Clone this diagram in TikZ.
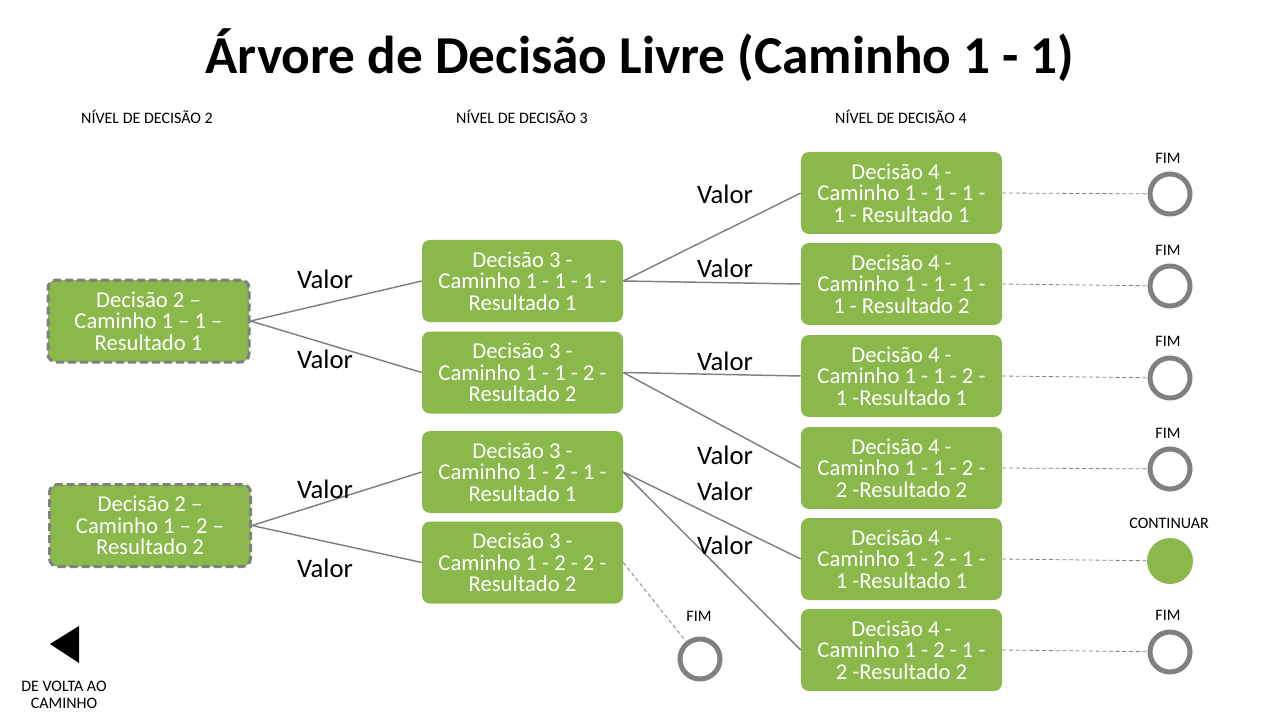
\documentclass[tikz,border=0pt]{standalone}
\usepackage{fontspec}
\setmainfont{Carlito}
\definecolor{leafgreen}{RGB}{138,184,74}
\definecolor{wiregray}{RGB}{128,128,128}

\begin{document}
\begin{tikzpicture}[x=0.75pt,y=-0.75pt,
  decbox/.style={fill=leafgreen, rounded corners=6pt, minimum width=150.75pt, minimum height=61.5pt,
    inner sep=0pt, text=white, align=center, font=\fontsize{17}{16}\selectfont},
  rootbox/.style={decbox, draw=wiregray, line width=2.25pt, dash pattern=on 6pt off 3pt},
  link/.style={draw=wiregray, line width=1.1pt},
  leadline/.style={draw=wiregray, line width=0.6pt, dash pattern=on 3pt off 2pt},
  endring/.style={circle, draw=wiregray, line width=3.75pt, minimum size=30pt, inner sep=0pt},
  endfill/.style={circle, fill=leafgreen, minimum size=34.5pt, inner sep=0pt},
  vallabel/.style={font=\fontsize{20}{22}\selectfont},
  smalllabel/.style={font=\fontsize{12}{13}\selectfont, align=center}]
\useasboundingbox (0,0) rectangle (1280,720);

\node[font=\fontsize{40}{48}\selectfont\bfseries] (title) at (640,55) {Árvore de Decisão Livre (Caminho 1 - 1)};
\node[smalllabel] (head2) at (147,117) {NÍVEL DE DECISÃO 2};
\node[smalllabel] (head3) at (522,117) {NÍVEL DE DECISÃO 3};
\node[smalllabel] (head4) at (901,117) {NÍVEL DE DECISÃO 4};

\node[rootbox] (rootA) at (148.5,321) {Decisão 2 –\\Caminho 1 – 1 –\\Resultado 1};
\node[rootbox] (rootB) at (150,525.5) {Decisão 2 –\\Caminho 1 – 2 –\\Resultado 2};

\node[decbox] (midA) at (522.5,281) {Decisão 3 -\\Caminho 1 - 1 - 1 -\\Resultado 1};
\node[decbox] (midB) at (522.5,372.5) {Decisão 3 -\\Caminho 1 - 1 - 2 -\\Resultado 2};
\node[decbox] (midC) at (522.5,472) {Decisão 3 -\\Caminho 1 - 2 - 1 -\\Resultado 1};
\node[decbox] (midD) at (522.5,562.5) {Decisão 3 -\\Caminho 1 - 2 - 2 -\\Resultado 2};

\node[decbox] (leafA) at (901.5,193) {Decisão 4 -\\Caminho 1 - 1 - 1 -\\1 - Resultado 1};
\node[decbox] (leafB) at (901.5,284) {Decisão 4 -\\Caminho 1 - 1 - 1 -\\1 - Resultado 2};
\node[decbox] (leafC) at (901.5,376) {Decisão 4 -\\Caminho 1 - 1 - 2 -\\1 -Resultado 1};
\node[decbox] (leafD) at (901.5,468) {Decisão 4 -\\Caminho 1 - 1 - 2 -\\2 -Resultado 2};
\node[decbox] (leafE) at (901.5,559) {Decisão 4 -\\Caminho 1 - 2 - 1 -\\1 -Resultado 1};
\node[decbox] (leafF) at (901.5,650) {Decisão 4 -\\Caminho 1 - 2 - 1 -\\2 -Resultado 2};

\node[endring] (endA) at (1170,194) {};
\node[endring] (endB) at (1170,286) {};
\node[endring] (endC) at (1170,378) {};
\node[endring] (endD) at (1170,469) {};
\node[endfill] (endE) at (1170,561) {};
\node[endring] (endF) at (1170,652) {};
\node[endring] (endG) at (700,659) {};

\node[smalllabel] (finA) at (1168,158) {FIM};
\node[smalllabel] (finB) at (1168,250) {FIM};
\node[smalllabel] (finC) at (1168,341) {FIM};
\node[smalllabel] (finD) at (1168,433) {FIM};
\node[smalllabel] (goon) at (1169,523) {CONTINUAR};
\node[smalllabel] (finF) at (1168,615) {FIM};
\node[smalllabel] (finG) at (699,616) {FIM};

\draw[link] (rootA.east) -- (midA.west);
\draw[link] (rootA.east) -- (midB.west);
\draw[link] (rootB.east) -- (midC.west);
\draw[link] (rootB.east) -- (midD.west);
\draw[link] (midA.east) -- (leafA.west);
\draw[link] (midA.east) -- (leafB.west);
\draw[link] (midB.east) -- (leafC.west);
\draw[link] (midB.east) -- (leafD.west);
\draw[link] (midC.east) -- (leafE.west);
\draw[link] (midC.east) -- (leafF.west);

\draw[leadline] (leafA.east) -- (endA);
\draw[leadline] (leafB.east) -- (endB);
\draw[leadline] (leafC.east) -- (endC);
\draw[leadline] (leafD.east) -- (endD);
\draw[leadline] (leafE.east) -- (endE);
\draw[leadline] (leafF.east) -- (endF);
\draw[leadline] (midD.east) -- (endG);

\node[vallabel] (valA) at (325,279) {Valor};
\node[vallabel] (valB) at (325,359) {Valor};
\node[vallabel] (valC) at (325,489) {Valor};
\node[vallabel] (valD) at (325,568) {Valor};
\node[vallabel] (valE) at (725,194) {Valor};
\node[vallabel] (valF) at (725,268) {Valor};
\node[vallabel] (valG) at (725,361) {Valor};
\node[vallabel] (valH) at (725,455) {Valor};
\node[vallabel] (valI) at (725,491) {Valor};
\node[vallabel] (valJ) at (725,545) {Valor};

\fill (50,644) -- (79,626) -- (79,663) -- cycle;
\node[smalllabel] (back) at (64,695) {DE VOLTA AO\\CAMINHO};
\end{tikzpicture}
\end{document}
